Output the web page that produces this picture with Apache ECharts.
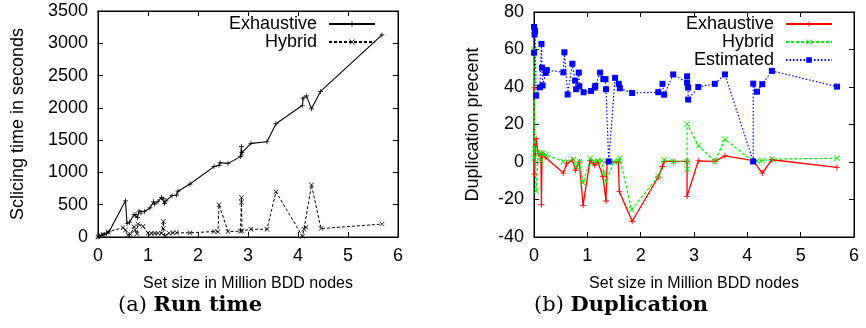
<!DOCTYPE html>
<html>
<head>
<meta charset="utf-8">
<script src="https://cdn.jsdelivr.net/npm/echarts@6/dist/echarts.min.js"></script>
<style>
  html, body { margin: 0; padding: 0; background: #fff; }
  #chart { width: 866px; height: 328px; }
</style>
</head>
<body>
<div id="chart"></div>
<script>
// (a) run time: [million BDD nodes, seconds]
const runExhaustive = [
  [0, 0], [0.03, 10], [0.08, 30], [0.12, 40], [0.17, 55], [0.22, 80],
  [0.55, 560], [0.58, 205], [0.63, 230], [0.72, 345], [0.76, 350], [0.79, 300],
  [0.82, 400], [0.86, 370], [0.93, 395], [1.04, 450], [1.11, 545], [1.13, 510],
  [1.2, 550], [1.27, 610], [1.31, 590], [1.33, 520], [1.36, 560], [1.48, 640],
  [1.57, 650], [1.6, 710], [1.84, 820], [2.32, 1090], [2.42, 1110], [2.44, 1150],
  [2.6, 1140], [2.85, 1245], [2.87, 1400], [2.87, 1270], [2.88, 1310], [3.06, 1450],
  [3.38, 1475], [3.56, 1755], [4.09, 2040], [4.1, 2150], [4.17, 2185], [4.27, 1985],
  [4.45, 2255], [5.68, 3130]
];
const runHybrid = [
  [0, 0], [0.04, 20], [0.1, 40], [0.2, 80], [0.5, 145], [0.55, 110], [0.6, 35],
  [0.65, 40], [0.72, 160], [0.74, 110], [0.78, 50], [0.8, 200], [0.9, 165],
  [1.0, 60], [1.07, 60], [1.13, 60], [1.2, 60], [1.27, 60], [1.31, 240], [1.31, 130],
  [1.34, 15], [1.42, 60], [1.5, 65], [1.57, 65], [1.84, 65], [2.32, 85], [2.4, 80],
  [2.42, 500], [2.6, 85], [2.85, 90], [2.87, 610], [2.87, 540], [2.88, 95],
  [3.06, 120], [3.38, 120], [3.56, 700], [4.09, 10], [4.12, 120], [4.16, 150],
  [4.27, 805], [4.46, 130], [5.68, 200]
];

// (b) duplication: [million BDD nodes, percent]
const dupExhaustive = [
  [0, 39.5], [0.005, -6.5], [0.04, 12.5], [0.08, 4.5], [0.13, 3.5], [0.14, -22.8],
  [0.15, 4.7], [0.21, 2.5], [0.55, -5.9], [0.61, -1], [0.72, 1], [0.78, -4.4],
  [0.85, 0], [0.92, -23.1], [1.05, 0.7], [1.11, -0.6], [1.14, -1.7], [1.2, 0],
  [1.29, -7.7], [1.35, -20.8], [1.37, 0], [1.58, 0], [1.6, -15.7], [1.84, -31.6],
  [2.33, -8], [2.41, -2.4], [2.44, 0.3], [2.61, 0.3], [2.87, 0.3], [2.87, -18.3],
  [3.08, 0.6], [3.39, 0.3], [3.58, 3.3], [4.11, 0.7], [4.28, -5.9], [4.46, 1.2],
  [5.68, -2.9]
];
const dupHybrid = [
  [0, 2], [0, 60], [0.01, 7], [0.04, -15.4], [0.08, 5], [0.12, 0.8], [0.14, 4.5],
  [0.17, 4.7], [0.22, 3.8], [0.55, 0.3], [0.74, 1.5], [0.79, -2.4], [0.85, 0.3],
  [0.92, -11.2], [1.06, 2], [1.12, 0.3], [1.2, 0.6], [1.27, 0.8], [1.31, -5.9],
  [1.35, -10.4], [1.5, 0.3], [1.59, 0.6], [1.61, 2], [1.83, -25.5], [2.33, -7.7],
  [2.44, 1.2], [2.61, 0.3], [2.87, 0.3], [2.87, -3.8], [2.87, 20.3], [3.08, 8.8],
  [3.39, 0.3], [3.58, 12.1], [4.11, 0.3], [4.18, 0.6], [4.28, 0.8], [4.46, 1.5],
  [5.68, 2]
];
const dupEstimated = [
  [0, 58.3], [0, 72], [0.01, 68], [0.02, 70], [0.04, 35.4], [0.11, 39.8], [0.14, 63],
  [0.15, 50.3], [0.16, 40.8], [0.22, 47.5], [0.24, 49], [0.55, 47.8], [0.57, 58.5],
  [0.63, 36], [0.72, 52.4], [0.77, 43.4], [0.79, 38.8], [0.84, 47.7], [0.85, 40.4],
  [0.93, 37.2], [1.07, 37.9], [1.14, 39.7], [1.15, 40.6], [1.24, 47.7], [1.3, 44.2],
  [1.34, 44.2], [1.35, 38.8], [1.4, 0.3], [1.52, 44.9], [1.59, 41.7], [1.61, 39.3],
  [1.84, 36.8], [2.33, 37.2], [2.41, 41.7], [2.44, 35.9], [2.61, 46.7], [2.87, 42.3],
  [2.87, 45.7], [2.89, 39.7], [2.89, 33.3], [3.08, 40], [3.39, 41.7], [3.58, 46.7],
  [4.11, 0.3], [4.11, 41.8], [4.18, 37.5], [4.28, 41.5], [4.46, 48.6], [5.68, 40.2]
];

const SANS = "Liberation Sans";
const SERIF = "DejaVu Serif";
const PLUS = "path://M0,4.3H10V5.7H0ZM4.3,0H5.7V10H4.3Z";
const CROSS = "path://M0.9,0L10,9.1L9.1,10L0,0.9ZM9.1,0L10,0.9L0.9,10L0,9.1Z";

const chart = echarts.init(document.getElementById("chart"));

// x axis pair (bottom with labels + mirrored top) for a grid
function xAxes(grid) {
  const base = {
    type: "value", gridIndex: grid, min: 0, max: 6, interval: 1,
    axisLine: { show: true, onZero: false, lineStyle: { color: "#000", width: 1 } },
    axisTick: { inside: true, length: 5, lineStyle: { color: "#000" } },
    splitLine: { show: false }
  };
  return [
    Object.assign({}, base, {
      position: "bottom",
      name: "Set size in Million BDD nodes",
      nameLocation: "middle", nameGap: 39,
      nameTextStyle: { fontFamily: SANS, fontSize: 16, color: "#000" },
      axisLabel: { fontFamily: SANS, fontSize: 18, color: "#000", margin: 10 }
    }),
    Object.assign({}, base, { position: "top", axisLabel: { show: false } })
  ];
}

function yAxes(grid, min, max, step, name, gap) {
  const base = {
    type: "value", gridIndex: grid, min: min, max: max, interval: step,
    axisLine: { show: true, onZero: false, lineStyle: { color: "#000", width: 1 } },
    axisTick: { inside: true, length: 5, lineStyle: { color: "#000" } },
    splitLine: { show: false }
  };
  return [
    Object.assign({}, base, {
      position: "left", name: name, nameLocation: "middle", nameGap: gap,
      nameTextStyle: { fontFamily: SANS, fontSize: 18, color: "#000" },
      axisLabel: {
        fontFamily: SANS, fontSize: 18, color: "#000", margin: 10,
        formatter: (v) => String(v)
      }
    }),
    Object.assign({}, base, { position: "right", axisLabel: { show: false } })
  ];
}

function line(name, data, xi, yi, color, dash, symbol, size, width) {
  return {
    name: name, type: "line", data: data,
    xAxisIndex: xi, yAxisIndex: yi,
    symbol: symbol, symbolSize: size, showSymbol: true,
    lineStyle: { color: color, width: width, type: dash },
    itemStyle: { color: color },
    emphasis: { disabled: true }
  };
}

const legendBase = {
  orient: "vertical", align: "right", padding: 0,
  itemWidth: 46, itemHeight: 7, itemGap: 0,
  textStyle: {
    fontFamily: SANS, fontSize: 18, color: "#000",
    lineHeight: 18, padding: [0, 7, 0, 0]
  },
  formatter: (n) => n.replace(" (b)", ""),
  selectedMode: false
};

chart.setOption({
  animation: false,
  backgroundColor: "#fff",
  grid: [
    { left: 98, right: 468, top: 11, bottom: 91, show: true, borderColor: "#000", borderWidth: 1 },
    { left: 534, right: 12, top: 12, bottom: 91, show: true, borderColor: "#000", borderWidth: 1 }
  ],
  xAxis: xAxes(0).concat(xAxes(1)),
  yAxis: yAxes(0, 0, 3500, 500, "Sclicing time in seconds", 71)
    .concat(yAxes(1, -40, 80, 20, "Duplication precent", 52)),
  legend: [
    Object.assign({}, legendBase, { data: ["Exhaustive", "Hybrid"], right: 490, top: 15 }),
    Object.assign({}, legendBase, {
      data: ["Exhaustive (b)", "Hybrid (b)", "Estimated"], right: 33, top: 15
    })
  ],
  series: [
    line("Exhaustive", runExhaustive, 0, 0, "#000", "solid", PLUS, 5, 1.1),
    line("Hybrid", runHybrid, 0, 0, "#000", [3, 2], CROSS, 5, 1),
    line("Exhaustive (b)", dupExhaustive, 2, 2, "#ff0000", "solid", PLUS, 6, 1.3),
    line("Hybrid (b)", dupHybrid, 2, 2, "#00ee00", [3, 2], CROSS, 6, 1.2),
    line("Estimated", dupEstimated, 2, 2, "#0000ff", [1.5, 2], "rect", 6, 1.2)
  ],
  graphic: [
    {
      type: "text", left: 118, top: 295,
      style: {
        text: "{n|(a) }{b|Run time}",
        rich: {
          n: { fontFamily: SERIF, fontSize: 21, fill: "#000" },
          b: { fontFamily: SERIF, fontSize: 21, fontWeight: "bold", fill: "#000" }
        }
      }
    },
    {
      type: "text", left: 534, top: 295,
      style: {
        text: "{n|(b) }{b|Duplication}",
        rich: {
          n: { fontFamily: SERIF, fontSize: 21, fill: "#000" },
          b: { fontFamily: SERIF, fontSize: 21, fontWeight: "bold", fill: "#000" }
        }
      }
    }
  ]
});
</script>
</body>
</html>
